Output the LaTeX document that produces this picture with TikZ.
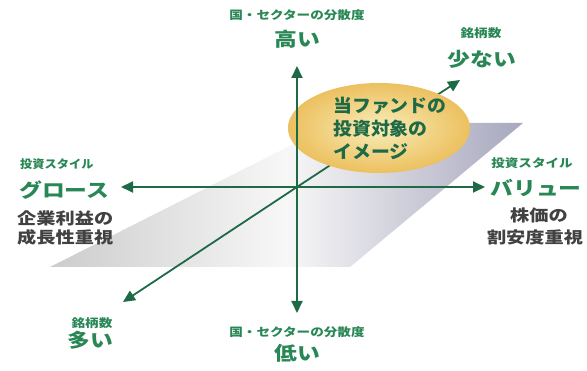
\documentclass[tikz,border=0pt]{standalone}
\usepackage{fontspec}
\newfontfamily\jp{Noto Sans CJK JP}
\usetikzlibrary{arrows.meta,shapes.geometric}

\definecolor{axisgreen}{RGB}{30,105,70}
\definecolor{labelgreen}{RGB}{40,135,85}
\definecolor{bodygray}{RGB}{65,65,65}
\definecolor{paleyellow}{RGB}{248,238,185}
\definecolor{goldyellow}{RGB}{236,192,95}

\tikzset{
  axis/.style={line width=1.8pt, axisgreen, -{Triangle[length=12pt,width=11pt]}},
  biglabel/.style={font=\jp\bfseries\fontsize{19}{22}\selectfont, text=labelgreen, xscale=1.2, inner sep=0pt},
  smalllabel/.style={font=\jp\bfseries\fontsize{11.5}{13}\selectfont, text=labelgreen, xscale=1.18, inner sep=0pt},
  notelabel/.style={font=\jp\bfseries\fontsize{16}{19}\selectfont, text=bodygray, xscale=1.2, inner sep=0pt},
  fundtext/.style={font=\jp\bfseries\fontsize{18}{23}\selectfont, text=axisgreen, xscale=1.05, inner sep=0pt, align=left},
}

\begin{document}
\begin{tikzpicture}[x=1pt, y=-1pt]
			\useasboundingbox (0,0) rectangle (587,371);
			% plane
			\coordinate (P1) at (50,267);
			\coordinate (P2) at (350,267);
			\coordinate (P3) at (523,123);
			\coordinate (P4) at (335,123);
			\shade[left color=gray!40, right color=blue!15!gray!60, middle color=gray!6] (P1) -- (P2) -- (P3) -- (P4) --cycle;

			% axes ends
			\coordinate (O) at (297,187);
			\coordinate (N) at (297,66);
			\coordinate (S) at (297,313);
			\coordinate (W) at (121,187);
			\coordinate (E) at (485,187);
			\coordinate (NE) at (460,80);
			\coordinate (SW) at (123,302);

			% number of stocks
			\draw[axis] (O) -- (SW);
			\draw[axis] (O) -- (NE);

			% the fund
			\node[ellipse, minimum width=182pt, minimum height=90pt, inner color=paleyellow, outer color=goldyellow] (image) at (379,128) {};
			\node[fundtext, anchor=west] (imagetext) at (333,128) {当ファンドの\\投資対象の\\イメージ};

			% dispersion and style
			\draw[axis] (O) -- (N);
			\draw[axis] (O) -- (S);
			\draw[axis] (O) -- (W);
			\draw[axis] (O) -- (E);

			% top and bottom
			\node[smalllabel] (topsub) at (297,15) {国・セクターの分散度};
			\node[biglabel] (high) at (297,39) {高い};
			\node[smalllabel] (bottomsub) at (297,332) {国・セクターの分散度};
			\node[biglabel] (low) at (297,353) {低い};

			% left
			\node[smalllabel, anchor=west, xscale=0.9] (leftsub) at (20,164) {投資スタイル};
			\node[biglabel, anchor=west] (growth) at (19,190) {グロース};
			\node[notelabel, anchor=west] (growthnote1) at (17,218) {企業利益の};
			\node[notelabel, anchor=west] (growthnote2) at (17,237) {成長性重視};

			% right
			\node[smalllabel] (rightsub) at (532,163) {投資スタイル};
			\node[biglabel] (value) at (536,188) {バリュー};
			\node[notelabel] (valuenote1) at (539,215) {株価の};
			\node[notelabel] (valuenote2) at (535,237) {割安度重視};

			% diagonal
			\node[smalllabel] (fewsub) at (481,33) {銘柄数};
			\node[biglabel] (few) at (482,59) {少ない};
			\node[smalllabel] (manysub) at (92,323) {銘柄数};
			\node[biglabel] (many) at (90,340) {多い};
		\end{tikzpicture}
\end{document}
